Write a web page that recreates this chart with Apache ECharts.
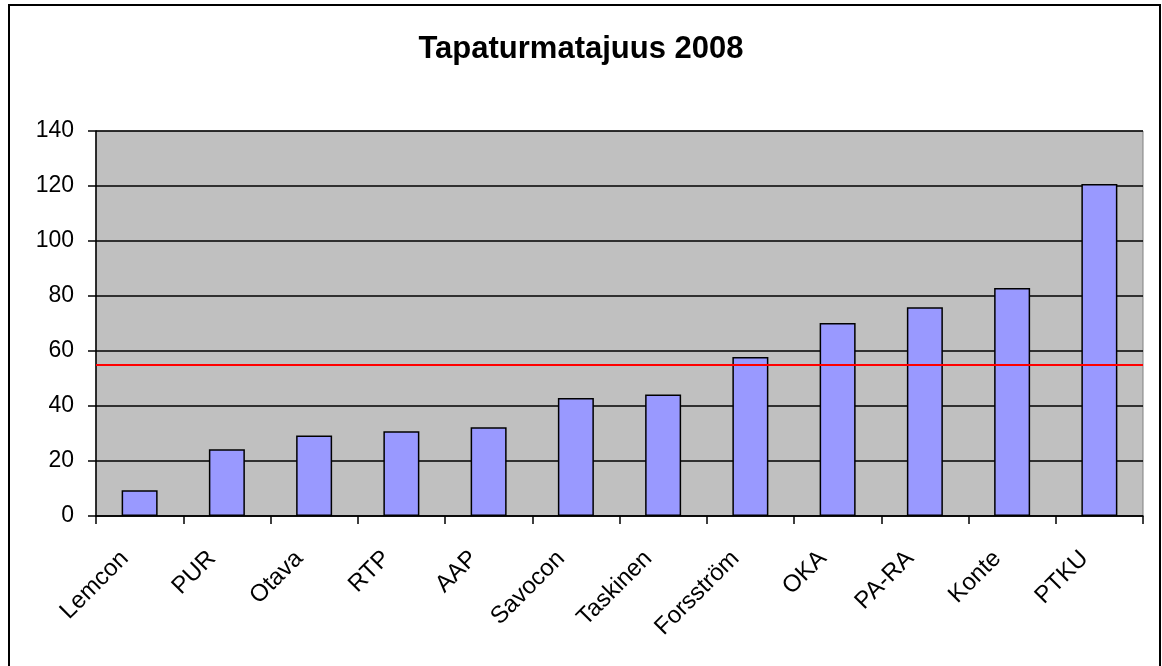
<!DOCTYPE html>
<html>
<head>
<meta charset="utf-8">
<script src="https://cdn.jsdelivr.net/npm/echarts@6/dist/echarts.min.js"></script>
<style>
  html, body { margin: 0; padding: 0; background: #fff; }
  #chart { width: 1162px; height: 666px; }
</style>
</head>
<body>
<div id="chart"></div>
<script>
// data
var categories = ['Lemcon', 'PUR', 'Otava', 'RTP', 'AAP', 'Savocon', 'Taskinen', 'Forsström', 'OKA', 'PA-RA', 'Konte', 'PTKU']
var values = [9.4, 24.3, 29.3, 30.8, 32.3, 42.9, 44.2, 57.8, 70.2, 75.9, 82.9, 120.7]
var average = 55
var yMax = 140
var yStep = 20

var chart = echarts.init(document.getElementById('chart'))
chart.setOption({
  animation: false,
  textStyle: {
    fontFamily: 'Liberation Sans, Arial, sans-serif'
  },
  title: {
    text: 'Tapaturmatajuus 2008',
    left: 'center',
    top: 29,
    textStyle: {
      fontSize: 31,
      fontWeight: 'bold',
      color: '#000'
    }
  },
  graphic: [{
    type: 'rect',
    shape: { x: 9, y: 5, width: 1151, height: 700 },
    style: { fill: 'none', stroke: '#000', lineWidth: 2 },
    silent: true
  }],
  grid: {
    left: 96,
    right: 19,
    top: 131,
    bottom: 150,
    show: true,
    backgroundColor: '#C0C0C0',
    borderColor: '#808080',
    borderWidth: 1
  },
  xAxis: {
    type: 'category',
    data: categories,
    axisLine: { lineStyle: { color: '#000', width: 1.5 } },
    axisTick: { show: true, length: 8, lineStyle: { color: '#000', width: 1.5 } },
    axisLabel: {
      rotate: 45,
      margin: 24,
      padding: [0, 21, 0, 0],
      fontSize: 24,
      color: '#000',
      interval: 0
    }
  },
  yAxis: {
    type: 'value',
    min: 0,
    max: yMax,
    interval: yStep,
    axisLine: { show: true, lineStyle: { color: '#000', width: 1.5 } },
    axisTick: { show: true, length: 8, lineStyle: { color: '#000', width: 1.5 } },
    axisLabel: {
      margin: 22,
      fontSize: 23,
      color: '#000'
    },
    splitLine: {
      lineStyle: { color: '#000', width: 1.5 }
    }
  },
  series: [{
    type: 'bar',
    data: values,
    barWidth: 36,
    itemStyle: {
      color: '#9999FF',
      borderColor: '#000',
      borderWidth: 1.5
    },
    markLine: {
      silent: true,
      symbol: 'none',
      label: { show: false },
      lineStyle: { color: '#FF0000', width: 2, type: 'solid' },
      data: [{ yAxis: average }]
    }
  }]
})
</script>
</body>
</html>
